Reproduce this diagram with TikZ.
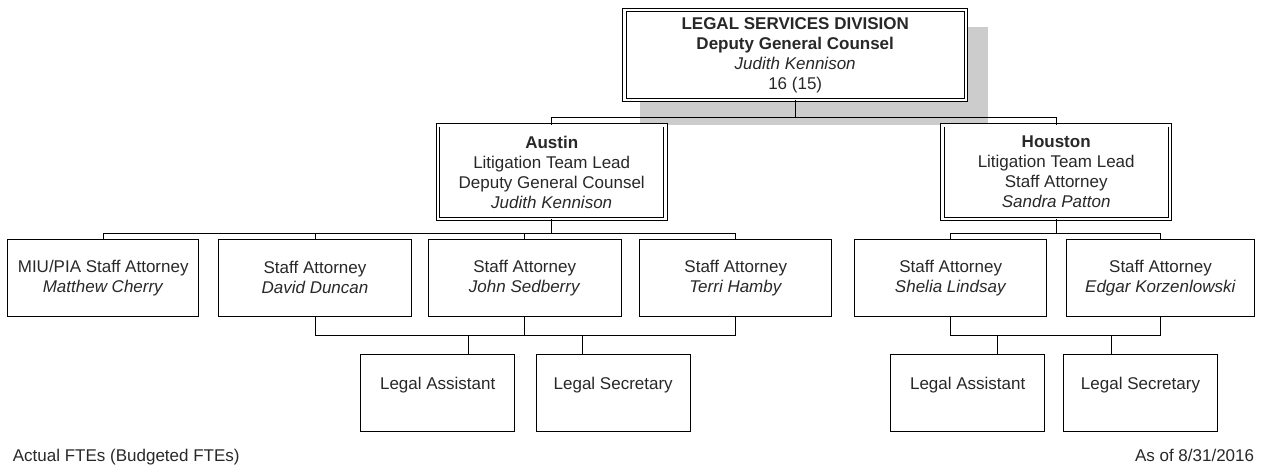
\documentclass[tikz,border=0pt]{standalone}
\usepackage{fontspec}
\setmainfont{Liberation Sans}
\usetikzlibrary{calc}
\definecolor{inkgray}{RGB}{40,40,40}
\definecolor{shadowgray}{RGB}{204,204,204}
\begin{document}
\begin{tikzpicture}[x=1pt,y=-1pt,
  every node/.style={font=\fontsize{17}{20}\selectfont, text=inkgray, align=center, inner sep=0pt},
  staffbox/.style={draw=black, line width=1pt, minimum width=#1, minimum height=76.7pt},
  staffbox/.default=192pt,
  supportbox/.style={draw=black, line width=1pt, minimum width=154pt, minimum height=77pt},
  leadbox/.style={draw=black, line width=0.9pt, double, double distance=2.3pt, minimum width=#1, minimum height=93.5pt},
  link/.style={draw=black, line width=1pt},
  footnote/.style={font=\fontsize{17}{20}\selectfont}
]
\useasboundingbox (0,0) rectangle (1263,468);

% division head with its drop shadow
\node[leadbox=341.5pt, minimum height=90pt] (top) at (795.2,55) {};
\fill[shadowgray] ([xshift=16pt,yshift=-17.7pt]top.north west) rectangle ([xshift=21.7pt,yshift=-24.5pt]top.south east);
\node[leadbox=341.5pt, minimum height=90pt, fill=white] (top) at (795.2,55)
  {\textbf{LEGAL SERVICES DIVISION}\\\textbf{Deputy General Counsel}\\\textit{Judith Kennison}\\16 (15)};

% team leads
\node[leadbox=227.5pt, fill=white] (austin) at (551.7,172.2)
  {\textbf{Austin}\\Litigation Team Lead\\Deputy General Counsel\\\textit{Judith Kennison}};
\node[leadbox=227.5pt, fill=white] (houston) at (1056.2,172.2)
  {\textbf{Houston}\\Litigation Team Lead\\Staff Attorney\\\textit{Sandra Patton}};

% staff attorneys
\node[staffbox=191pt] (miu) at (103.2,277.7) {MIU/PIA Staff Attorney\\\textit{Matthew Cherry}};
\node[staffbox=192.6pt] (david) at (315,277.7) {Staff Attorney\\\textit{David Duncan}};
\node[staffbox=192.7pt] (john) at (524.7,277.7) {Staff Attorney\\\textit{John Sedberry}};
\node[staffbox=192.3pt] (terri) at (735.8,277.7) {Staff Attorney\\\textit{Terri Hamby}};
\node[staffbox=192pt] (shelia) at (950.7,277.7) {Staff Attorney\\\textit{Shelia Lindsay}};
\node[staffbox=188.4pt] (edgar) at (1160.5,277.7) {Staff Attorney\\\textit{Edgar Korzenlowski}};

% support staff
\node[supportbox] (aLA) at (437.7,393.2) {Legal Assistant\\\mbox{}};
\node[supportbox] (aLS) at (613.2,393.2) {Legal Secretary\\\mbox{}};
\node[supportbox] (hLA) at (967.7,393.2) {Legal Assistant\\\mbox{}};
\node[supportbox] (hLS) at (1140.5,393.2) {Legal Secretary\\\mbox{}};

% connector levels
\coordinate (lvl1) at (0,117.8);
\coordinate (lvl2) at (0,233);
\coordinate (lvl3) at (0,335);

% head to team leads
\draw[link] (top.south) -- (top.south |- lvl1);
\draw[link] (austin.north) -- (austin.north |- lvl1) -- (houston.north |- lvl1) -- (houston.north);

% Austin team
\draw[link] (austin.south) -- (austin.south |- lvl2);
\draw[link] (miu.north) -- (miu.north |- lvl2) -- (terri.north |- lvl2) -- (terri.north);
\draw[link] (david.north) -- (david.north |- lvl2);
\draw[link] (john.north) -- (john.north |- lvl2);
\draw[link] (david.south) -- (david.south |- lvl3) -- (terri.south |- lvl3) -- (terri.south);
\draw[link] (john.south) -- (john.south |- lvl3);
\coordinate (aLAin) at ($(aLA.north west)!0.7!(aLA.north east)$);
\coordinate (aLSin) at ($(aLS.north west)!0.3!(aLS.north east)$);
\draw[link] (aLAin) -- (aLAin |- lvl3);
\draw[link] (aLSin) -- (aLSin |- lvl3);

% Houston team
\draw[link] (houston.south) -- (houston.south |- lvl2);
\draw[link] (shelia.north) -- (shelia.north |- lvl2) -- (edgar.north |- lvl2) -- (edgar.north);
\draw[link] (shelia.south) -- (shelia.south |- lvl3) -- (edgar.south |- lvl3) -- (edgar.south);
\coordinate (hLAin) at ($(hLA.north west)!0.69!(hLA.north east)$);
\coordinate (hLSin) at ($(hLS.north west)!0.315!(hLS.north east)$);
\draw[link] (hLAin) -- (hLAin |- lvl3);
\draw[link] (hLSin) -- (hLSin |- lvl3);

% footer
\node[footnote, anchor=base west] (legend) at (12.7,461.5) {Actual FTEs (Budgeted FTEs)};
\node[footnote, anchor=base east] (asof) at (1254.3,461.5) {As of 8/31/2016};
\end{tikzpicture}
\end{document}
